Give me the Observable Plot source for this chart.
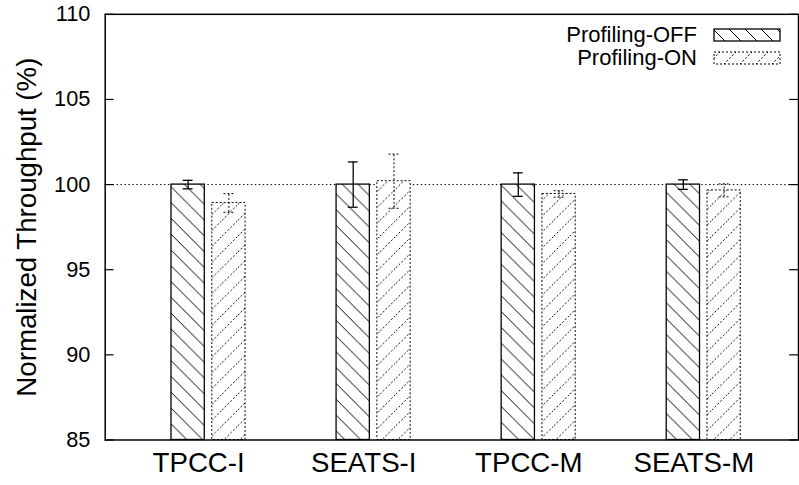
<!DOCTYPE html>
<html>
<head>
<meta charset="utf-8">
<script src="https://cdn.jsdelivr.net/npm/d3@7"></script>
<script src="https://cdn.jsdelivr.net/npm/@observablehq/plot@0.6"></script>
<style>
  html, body { margin: 0; padding: 0; background: #fff; }
  #wrap { position: relative; width: 799px; height: 485px; overflow: hidden; }
  #legend { position: absolute; left: 560px; top: 20px; }
  svg text { font-family: "Liberation Sans", Arial, Helvetica, sans-serif; }
</style>
</head>
<body>
<div id="wrap">
  <div id="chart"></div>
  <svg id="legend" width="230" height="52"></svg>
</div>
<script>
// Benchmarks and normalized throughput (%) with error margins
const categories = ["TPCC-I", "SEATS-I", "TPCC-M", "SEATS-M"];
const seriesNames = ["Profiling-OFF", "Profiling-ON"];
const offValues = [100, 100, 100, 100];
const offErrors = [0.25, 1.33, 0.69, 0.28];
const onValues = [98.92, 100.2, 99.45, 99.66];
const onErrors = [0.55, 1.59, 0.19, 0.38];
const yTicks = [85, 90, 95, 100, 105, 110];
const yLabel = "Normalized Throughput (%)";
const baseline = 100;

const rows = categories.map((category, i) => ({
  category,
  off: offValues[i], offErr: offErrors[i],
  on: onValues[i], onErr: onErrors[i]
}));

// Layout
const width = 809, height = 485;
const marginLeft = 106, marginRight = 1, marginTop = 14, marginBottom = 40;
const outerPad = 0.1, align = 0.63;
const band = (width - marginLeft - marginRight) / (categories.length + 2 * outerPad);
const half = band / 2;
const barNear = 3.8, barFar = 37.5;      // bar edges measured from the group centre
const errShift = (barNear + barFar) / 2; // error bar sits in the middle of its bar
const capHalf = 5;
const font = "Liberation Sans, Arial, Helvetica, sans-serif";

const chart = Plot.plot({
  width, height, marginLeft, marginRight, marginTop, marginBottom,
  style: { fontFamily: font, background: "white", color: "black" },
  x: { type: "band", domain: categories, paddingInner: 0, paddingOuter: outerPad, align, round: false, axis: null },
  y: { domain: [85, 110], axis: null },
  marks: [
    // dotted reference line at 100 %
    Plot.ruleY([baseline], { stroke: "black", strokeWidth: 1, strokeDasharray: "1.5,2.5" }),
    // Profiling-OFF bars
    Plot.barY(rows, {
      x: "category", y1: () => 85, y2: "off",
      insetLeft: half - barFar, insetRight: half + barNear,
      fill: "url(#hatch-off)", stroke: "black", strokeWidth: 1.3
    }),
    // Profiling-ON bars
    Plot.barY(rows, {
      x: "category", y1: () => 85, y2: "on",
      insetLeft: half + barNear, insetRight: half - barFar,
      fill: "url(#hatch-on)", stroke: "black", strokeWidth: 1, strokeDasharray: "2,2"
    }),
    // error bars, OFF (solid)
    Plot.ruleX(rows, { x: "category", dx: -errShift, y1: d => d.off - d.offErr, y2: d => d.off + d.offErr, stroke: "black", strokeWidth: 1.3 }),
    Plot.tickY(rows, { x: "category", dx: -errShift, y: d => d.off - d.offErr, insetLeft: half - capHalf, insetRight: half - capHalf, stroke: "black", strokeWidth: 1.3 }),
    Plot.tickY(rows, { x: "category", dx: -errShift, y: d => d.off + d.offErr, insetLeft: half - capHalf, insetRight: half - capHalf, stroke: "black", strokeWidth: 1.3 }),
    // error bars, ON (dotted)
    Plot.ruleX(rows, { x: "category", dx: errShift, y1: d => d.on - d.onErr, y2: d => d.on + d.onErr, stroke: "black", strokeWidth: 1, strokeDasharray: "2,2" }),
    Plot.tickY(rows, { x: "category", dx: errShift, y: d => d.on - d.onErr, insetLeft: half - capHalf, insetRight: half - capHalf, stroke: "black", strokeWidth: 1, strokeDasharray: "2,2" }),
    Plot.tickY(rows, { x: "category", dx: errShift, y: d => d.on + d.onErr, insetLeft: half - capHalf, insetRight: half - capHalf, stroke: "black", strokeWidth: 1, strokeDasharray: "2,2" }),
    // inward tick marks, left and mirrored on the right
    Plot.tickY(yTicks, { y: d => d, insetRight: width - marginLeft - marginRight - 9, stroke: "black", strokeWidth: 1.2 }),
    Plot.tickY(yTicks, { y: d => d, insetLeft: width - marginLeft - marginRight - 9, stroke: "black", strokeWidth: 1.2 }),
    // y tick labels
    Plot.text(yTicks, { y: d => d, frameAnchor: "left", dx: -15, textAnchor: "end", fontSize: 22, fill: "black" }),
    // category labels
    Plot.text(categories, { x: d => d, frameAnchor: "bottom", dy: 13, dx: -10, lineAnchor: "top", fontSize: 28, fill: "black" }),
    // y axis title
    Plot.text([yLabel], { frameAnchor: "left", dx: -79, rotate: -90, textAnchor: "middle", lineAnchor: "middle", fontSize: 28, fill: "black" }),
    Plot.frame({ stroke: "black", strokeWidth: 1.5 })
  ]
});

// hatch patterns used by the bars and the legend
const defs = d3.select(chart).insert("defs", ":first-child");
const off = defs.append("pattern").attr("id", "hatch-off").attr("patternUnits", "userSpaceOnUse").attr("width", 16).attr("height", 16);
off.append("rect").attr("width", 16).attr("height", 16).attr("fill", "white");
off.append("path").attr("d", "M-2,-2L18,18M14,-2L18,2M-2,14L2,18").attr("stroke", "black").attr("stroke-width", 1);
const on = defs.append("pattern").attr("id", "hatch-on").attr("patternUnits", "userSpaceOnUse").attr("width", 16).attr("height", 16);
on.append("rect").attr("width", 16).attr("height", 16).attr("fill", "white");
on.append("path").attr("d", "M-2,18L18,-2M-2,2L2,-2M14,18L18,14").attr("stroke", "black").attr("stroke-width", 1).attr("stroke-dasharray", "2,2");

document.getElementById("chart").append(chart);

// legend
const legend = d3.select("#legend");
const legendStyles = [
  { fill: "url(#hatch-off)", dash: null, width: 1.3 },
  { fill: "url(#hatch-on)", dash: "2,2", width: 1 }
];
seriesNames.forEach((name, i) => {
  const yBase = 22 + i * 23;
  legend.append("text").attr("x", 137).attr("y", yBase).attr("text-anchor", "end")
    .attr("font-size", 22).attr("fill", "black").text(name);
  legend.append("rect").attr("x", 154).attr("y", yBase - 13).attr("width", 66).attr("height", 12)
    .attr("fill", legendStyles[i].fill).attr("stroke", "black")
    .attr("stroke-width", legendStyles[i].width)
    .attr("stroke-dasharray", legendStyles[i].dash);
});
</script>
</body>
</html>
